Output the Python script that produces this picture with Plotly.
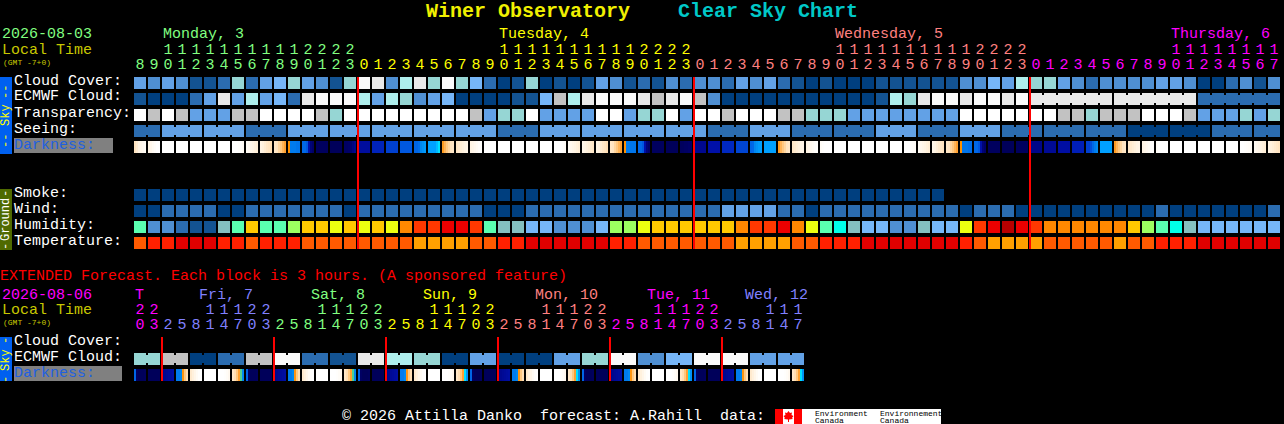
import plotly.graph_objects as go

# ---------- data ----------
PALETTE = ["#003f7f", "#135392", "#2b6cb0", "#4f8fd2", "#62a1e6", "#76b6f8", "#96d6d4", "#aeeeec",
           "#c2c2c2", "#e9e9e9", "#fafafa", "#ffffff", "#5affb0", "#84c0c0", "#9cff60", "#ffc800",
           "#ecff10", "#ff8800", "#ff3800", "#ec0000", "#b80000", "#00ffe8", "#ffa000", "#ff5a00",
           "#ff2000", "#e00000"]

HOUR_LABELS = ["8", "9"] + [str(h) for h in range(10, 24)] + \
    [str(h) for h in range(24)] * 2 + [str(h) for h in range(18)]
HOUR_DAY_COLORS = ["#80ff80"] * 16 + ["#ffff00"] * 24 + ["#ff8080"] * 24 + ["#ff00ff"] * 18
DAY_LABELS = [("Monday, 3", 163, "#80ff80"), ("Tuesday, 4", 499, "#ffff00"),
              ("Wednesday, 5", 835, "#ff8080"), ("Thursday, 6", 1171, "#ff00ff")]

CLOUD_COVER = [4, 3, 4, 3, 1, 1, 2, 6, 2, 4, 5, 6, 4, 3, 1, 6, 10, 9, 3, 7, 9,
               6, 10, 6, 5, 2, 0, 1, 6, 0, 1, 0, 1, 4, 3, 1, 2, 1, 3, 2, 3, 3, 2, 4, 3, 4, 2, 1, 0, 1, 0, 0,
               0, 1, 1, 1, 1, 1, 1, 3, 3, 5, 4, 7, 6, 6, 4, 3, 2, 3, 3, 3, 3, 4, 4, 3, 0, 0, 2, 3, 1, 3]
ECMWF_CLOUD = [1, 0, 0, 0, 2, 4, 9, 4, 7, 4, 5, 2, 9, 10, 10, 10, 7, 4, 7, 6, 3,
               4, 5, 0, 0, 0, 0, 1, 1, 5, 8, 7, 9, 10, 10, 10, 9, 8, 9, 10, 8, 3, 0, 0, 0, 0, 0, 0, 0, 0, 0, 0,
               0, 1, 7, 6, 9, 10, 10, 9, 10, 10, 9, 10, 9, 9, 9, 9, 9, 9, 9, 9, 9, 9, 9, 9, 2, 2, 2, 2, 2, 2]
ECMWF_SPANS = [(64, 69), (70, 75), (76, 81)]
TRANSPARENCY = [11, 8, 11, 8, 4, 4, 4, 8, 8, 11, 11, 11, 11, 8, 6, 11, 11, 11, 11, 11, 11,
                11, 11, 11, 8, 4, 6, 6, 11, 4, 4, 4, 4, 11, 11, 4, 6, 6, 11, 4, 11, 11, 8, 11, 11, 11, 8, 8, 6, 6, 6, 4,
                4, 4, 4, 4, 4, 4, 4, 11, 11, 11, 11, 11, 11, 11, 8, 8, 6, 8, 8, 8, 11, 11, 11, 8, 4, 4, 4, 6, 4, 6]
SEEING_SPAN_VALUES = [2, 4, 4, 2, 4, 4, 4, 4, 4, 2, 4, 4, 4, 4, 2, 4, 2, 2, 4, 2, 4, 2, 2, 2, 0, 0, 2, 2]
SEEING_SPANS = [(0, 1)] + [(c, c + 2) for c in range(2, 80, 3)] + [(80, 81)]
SMOKE = [0] * 58
WIND = [0, 0, 2, 2, 2, 2, 0, 0, 2, 2, 2, 2, 2, 2, 2, 0, 2, 2, 2, 2, 2,
        2, 2, 2, 2, 0, 0, 0, 2, 2, 2, 2, 2, 2, 2, 2, 2, 2, 2, 2, 2, 2, 4, 4, 4, 4, 2, 2, 0, 2, 2, 2,
        2, 2, 2, 2, 2, 2, 2, 0, 2, 2, 2, 0, 0, 0, 0, 0, 0, 0, 0, 0, 0, 2, 0, 0, 0, 0, 0, 0, 0, 2]
HUMIDITY = [12, 3, 3, 2, 1, 1, 13, 12, 15, 12, 12, 14, 15, 15, 16, 15, 16, 15, 16, 17, 18,
            18, 19, 19, 18, 12, 13, 13, 5, 5, 3, 3, 3, 5, 14, 14, 16, 15, 15, 15, 15, 15, 15, 17, 18, 18, 19, 17, 16, 12, 21, 13,
            5, 5, 3, 3, 13, 5, 5, 16, 18, 19, 20, 19, 18, 17, 17, 17, 17, 17, 17, 15, 14, 12, 21, 13, 5, 5, 5, 5, 5, 5]
TEMPERATURE = [23, 24, 24, 25, 25, 25, 24, 24, 23, 24, 24, 24, 23, 23, 23, 23, 23, 23, 23, 23, 22,
               22, 22, 22, 23, 23, 24, 24, 25, 25, 25, 25, 25, 25, 24, 24, 23, 23, 23, 23, 23, 23, 23, 22, 22, 22, 22, 23, 23, 24, 24, 24,
               25, 25, 25, 25, 25, 25, 25, 24, 23, 22, 22, 22, 22, 23, 23, 23, 23, 23, 22, 23, 23, 24, 24, 24, 25, 25, 25, 25, 25, 25]

DARKNESS_SCALE = [(0, "#ffffff"), (1, "#fff4e4"), (2, "#ffe4c0"), (3, "#ffc880"), (4, "#ffa030"),
                  (4.6, "#ff9000"), (4.75, "#50d090"), (5, "#00e0ff"), (5.5, "#00a0ff"), (6, "#0088f0"),
                  (6.5, "#0068e8"), (7, "#0058e0"), (7.5, "#0040d0"), (8, "#0028c0"), (8.5, "#0010a8"),
                  (9, "#000890"), (9.5, "#000068"), (10, "#000050")]
DARKNESS = [
    [2, 1.5, 1, .8, .6, .4], [1, .7, .4, .2, 0, 0], [0], [0], [0], [0], [0], [0, 0, 0, .1, .2, .4],
    [.4, .6, .8, 1, 1.2, 1.4], [1, 1.2, 1.5, 1.8, 2, 2.2], [1.8, 2, 2.5, 3, 3.5, 4], [4.6, 6.2, 6.2, 6.2, 6.3, 6.3],
    [6.5, 6.5, 7, 8.5, 9.3, 9.5], [9.7], [9.8], [9.6, 9.6, 9.5, 9.4, 9.2, 9], [8.7], [8.1], [7.5], [7],
    [6.6, 6.6, 6.4, 6, 5.8, 5.6], [5.5, 5.5, 5.5, 5.5, 5.3, 5], [4.2, 3.5, 3, 2.5, 2, 1.8], [1.8, 1.6, 1.4, 1.2, 1, .9],
    [1, .8, .6, .4, .2, .1], [0], [0], [0], [0], [0], [0, 0, 0, 0, .1, .3], [.4, .6, .8, 1, 1.2, 1.4],
    [.8, 1, 1.2, 1.4, 1.6, 1.8], [1, 1.2, 1.5, 1.8, 2, 2.2], [1.8, 2, 2.5, 3, 3.5, 4], [4.6, 6.2, 6.2, 6.3, 6.3, 6.3],
    [6.5, 6.5, 7, 8.5, 9.3, 9.5], [9.7], [9.8], [9.7, 9.7, 9.6, 9.6, 9.5, 9.5], [9], [8.5], [8], [7.4],
    [6.6, 6.5, 6, 5.8, 5.6, 5.5], [5.5], [4.2, 3.5, 3, 2.5, 2, 1.8], [1.8, 1.6, 1.4, 1.2, 1, .9],
    [1, .8, .6, .4, .2, .1], [.3, .1, 0, 0, 0, 0], [0], [0], [0], [0], [0], [0, 0, 0, .1, .2, .3],
    [.4, .6, .8, 1, 1.2, 1.4], [.8, 1, 1.3, 1.6, 1.8, 2], [1.8, 2, 2.5, 3, 3.5, 4], [4.6, 6.3, 6.3, 6.3, 6.4, 6.4],
    [6.5, 6.5, 7, 8.5, 9.3, 9.5], [9.7], [9.8], [9.7], [9.1], [8.9], [8.6], [8.2],
    [7.5, 7.5, 7.2, 6.5, 6.2, 6], [5.5], [4.2, 3.5, 3, 2.5, 2, 1.8], [1.8, 1.6, 1.4, 1.2, 1, .9],
    [1, .8, .6, .4, .2, .1], [.3, .1, 0, 0, 0, 0], [0], [0], [0], [0], [0], [0, 0, .1, .2, .3, .4],
    [.5, .7, .9, 1, 1.2, 1.4], [1, 1.2, 1.4, 1.6, 1.8, 2],
]
MIDNIGHT_COLS = [16, 40, 64]

EXT_ONES = list("03258147" * 6)
EXT_TENS = list("22   111" + "22   111" * 5)
EXT_DAY_COLORS = ["#ff00ff"] * 2 + ["#8080ff"] * 8 + ["#80ff80"] * 8 + ["#ffff00"] * 8 + \
    ["#ff8080"] * 8 + ["#ff00ff"] * 8 + ["#8080ff"] * 6
EXT_DAY_LABELS = [("T", 135, "#ff00ff"), ("Fri, 7", 199, "#8080ff"), ("Sat, 8", 311, "#80ff80"),
                  ("Sun, 9", 423, "#ffff00"), ("Mon, 10", 535, "#ff8080"), ("Tue, 11", 647, "#ff00ff"),
                  ("Wed, 12", 745, "#8080ff")]
EXT_ECMWF_PAIRS = [6, 8, 0, 2, 8, 10, 2, 1, 9, 7, 6, 0, 4, 0, 0, 4, 6, 10, 3, 5, 10, 10, 4, 4]
EXT_DARKNESS = [
    [6.6, 9.6, 9.8, 9.8, 9.8, 9.7], [9.8], [9.1, 9, 8.9, 8.8, 8.7, 8.6], [6.2, 6.2, 6, 4.4, 3, 2.2],
    [1.6, 1.2, .8, .4, .1, 0], [0], [0, 0, 0, .1, .3, .6], [1.8, 2.2, 3, 4, 4.75, 6],
    [6.6, 9.6, 9.8, 9.8, 9.8, 9.7], [9.8], [9.1, 9, 8.9, 8.8, 8.7, 8.6], [6.2, 6.2, 6, 4.4, 3, 2.2],
    [1.6, 1.2, .8, .4, .1, 0], [0], [0, 0, 0, .1, .3, .6], [1.8, 2.2, 3, 4, 4.75, 6],
    [6.6, 9.6, 9.8, 9.8, 9.8, 9.7], [9.8], [9.1, 9, 8.9, 8.8, 8.7, 8.6], [6.2, 6.2, 6, 4.4, 3, 2.2],
    [1.6, 1.2, .8, .4, .1, 0], [0], [0, 0, 0, .1, .3, .6], [1.8, 2.2, 3, 4, 5, 5.8],
    [6.6, 9.6, 9.8, 9.8, 9.8, 9.7], [9.8], [9.1, 9, 8.9, 8.8, 8.7, 8.6], [6.2, 6.2, 6, 4.4, 3, 2.2],
    [1.6, 1.2, .8, .4, .1, 0], [0], [0, 0, 0, .1, .3, .6], [1.8, 2.2, 3, 4, 5, 5.8],
    [6.6, 9.6, 9.8, 9.8, 9.8, 9.7], [9.8], [9.1, 9, 8.9, 8.8, 8.7, 8.6], [6.2, 6.2, 6, 4.4, 3, 2.2],
    [1.6, 1.2, .8, .4, .1, 0], [0], [0, 0, 0, .1, .3, .6], [1.8, 2.2, 3, 4, 5, 5.8],
    [6.6, 9.6, 9.8, 9.8, 9.8, 9.7], [9.8], [9.1, 9, 8.9, 8.8, 8.7, 8.6], [6.2, 6.2, 6, 4.4, 3, 2.2],
    [1.6, 1.2, .8, .4, .1, 0], [0], [0, 0, 0, .1, .3, .6], [1.8, 2.2, 3, 4, 5, 5.8],
]
EXT_MIDNIGHT_COLS = [2, 10, 18, 26, 34, 42]

# ---------- layout helpers ----------
W, H = 1284, 424
MONO = "Liberation Mono"
X0_PX, COL_PX = 140, 14      # pixel of column 0 centre, pixels per column
Y0_PX, ROW_PX = 83, 16       # pixel of row 0 centre, pixels per row
ROW_CLOUD, ROW_ECMWF, ROW_TRANS, ROW_SEEING, ROW_DARK = 0, 1, 2, 3, 4
ROW_SMOKE, ROW_WIND, ROW_HUM, ROW_TEMP = 7, 8, 9, 10
ROW_EXT_ECMWF, ROW_EXT_DARK = 17.25, 18.25


def row_of(px):
    return (px - Y0_PX) / ROW_PX


N = len(PALETTE)
DISCRETE = []
for i, c in enumerate(PALETTE):
    DISCRETE += [[i / N, c], [(i + 1) / N, c]]
DARK_CS = [[v / 10, c] for v, c in DARKNESS_SCALE]


def expand_spans(values, spans):
    out = [None] * (spans[-1][1] + 1)
    for v, (a, b) in zip(values, spans):
        for c in range(a, b + 1):
            out[c] = v
    return out


SEEING = expand_spans(SEEING_SPAN_VALUES, SEEING_SPANS)
EXT_SPANS = [(2 * i, 2 * i + 1) for i in range(len(EXT_ECMWF_PAIRS))]
EXT_ECMWF = expand_spans(EXT_ECMWF_PAIRS, EXT_SPANS)

pad = lambda a: list(a) + [None] * (82 - len(a))
grid_rows = {ROW_CLOUD: CLOUD_COVER, ROW_ECMWF: ECMWF_CLOUD, ROW_TRANS: TRANSPARENCY, ROW_SEEING: SEEING,
             ROW_SMOKE: pad(SMOKE), ROW_WIND: WIND, ROW_HUM: HUMIDITY, ROW_TEMP: TEMPERATURE}
ys = list(range(0, 11))
z = [grid_rows.get(r, [None] * 82) for r in ys]

fig = go.Figure()
common = dict(hoverinfo="skip", showscale=False)
fig.add_trace(go.Heatmap(x=list(range(82)), y=ys, z=z, xgap=2, ygap=4, zmin=-.5, zmax=N - .5,
                         colorscale=DISCRETE, **common))
fig.add_trace(go.Heatmap(x=list(range(48)), y=[ROW_EXT_ECMWF], z=[EXT_ECMWF], xgap=2, ygap=4, zmin=-.5,
                         zmax=N - .5, colorscale=DISCRETE, **common))


def darkness_trace(cells, row):
    xs, vals = [], []
    for c, prof in enumerate(cells):
        prof = prof * 6 if len(prof) == 1 else prof
        for k, v in enumerate(prof):
            xs.append(c + (k - 2.5) / 7)
            vals.append(v)
        xs.append(c + .5)
        vals.append(None)
    return go.Heatmap(x=xs, y=[row], z=[vals], ygap=4, zmin=0, zmax=10, colorscale=DARK_CS, **common)


fig.add_trace(darkness_trace(DARKNESS, ROW_DARK))
fig.add_trace(darkness_trace(EXT_DARKNESS, ROW_EXT_DARK))

# hour digits
tens = [s[0] if len(s) == 2 else " " for s in HOUR_LABELS]
ones = [s[-1] for s in HOUR_LABELS]
for digits, px, cols in [(tens, 50, HOUR_DAY_COLORS), (ones, 65, HOUR_DAY_COLORS),
                         (EXT_TENS, 310, EXT_DAY_COLORS), (EXT_ONES, 325, EXT_DAY_COLORS)]:
    fig.add_trace(go.Scatter(x=list(range(len(digits))), y=[row_of(px)] * len(digits), mode="text", text=digits,
                             textposition="middle center", textfont=dict(family=MONO, size=15, color=cols),
                             hoverinfo="skip"))

shapes = []


def bridges(values, spans, row):
    for a, b in spans:
        for c in range(a, b):
            shapes.append(dict(type="rect", xref="x", yref="y", x0=c + .4, x1=c + .6, y0=row - .25, y1=row + .25,
                               fillcolor=PALETTE[values[c]], line_width=0, layer="above"))


bridges(SEEING, SEEING_SPANS, ROW_SEEING)
bridges(ECMWF_CLOUD, ECMWF_SPANS, ROW_ECMWF)
bridges(EXT_ECMWF, EXT_SPANS, ROW_EXT_ECMWF)

# midnight lines
for c in MIDNIGHT_COLS:
    shapes.append(dict(type="line", xref="x", yref="y", x0=c - 3 / 7, x1=c - 3 / 7, y0=row_of(77), y1=row_of(249),
                       line=dict(color="#ff0000", width=2), layer="above"))
for c in EXT_MIDNIGHT_COLS:
    shapes.append(dict(type="line", xref="x", yref="y", x0=c - 3 / 7, x1=c - 3 / 7, y0=row_of(337), y1=row_of(381),
                       line=dict(color="#ff0000", width=2), layer="above"))


def prect(x0, y0, x1, y1, color, layer="below"):
    shapes.append(dict(type="rect", xref="paper", yref="paper", x0=x0 / W, x1=x1 / W, y0=1 - y0 / H, y1=1 - y1 / H,
                       fillcolor=color, line_width=0, layer=layer))


prect(0, 77, 12, 154, "#0060f0")
prect(0, 189, 12, 250, "#4f6a00")
prect(0, 337, 12, 381, "#0060f0")
prect(14, 138, 113, 153, "#808080")
prect(14, 366, 122, 381, "#808080")
# logo
prect(775, 409, 941, 424, "#ffffff")
prect(775, 409, 783, 424, "#ff0000")
prect(794, 409, 802, 424, "#ff0000")
leaf = [(788.5, 411), (790, 413), (792, 412.5), (791.5, 415), (793.5, 416), (792, 418), (793, 419), (789, 419.5),
        (789, 422), (788, 422), (788, 419.5), (784, 419), (785, 418), (783.5, 416), (785.5, 415), (785, 412.5),
        (787, 413)]
shapes.append(dict(type="path", xref="paper", yref="paper", fillcolor="#ff0000", line_width=0,
                   path="M " + " L ".join(f"{x / W:.5f},{1 - y / H:.5f}" for x, y in leaf) + " Z"))

anns = []


def label(x, y, text, color="#ffffff", size=15, bold=False, anchor="left", angle=0):
    if anchor == "left":
        x -= 1
    anns.append(dict(xref="paper", yref="paper", x=x / W, y=1 - y / H, text=f"<b>{text}</b>" if bold else text,
                     showarrow=False, xanchor=anchor, yanchor="middle", borderpad=0, textangle=angle,
                     font=dict(family=MONO, size=size, color=color)))


label(426, 12, "Winer Observatory", "#f0f000", 20, True)
label(678, 12, "Clear Sky Chart", "#00c8c8", 20, True)
label(2, 35, "2026-08-03", "#80ff80")
label(2, 50, "Local Time", "#c8c800")
label(3, 62, "(GMT -7+0)", "#c8c800", 8)
for t, x, c in DAY_LABELS:
    label(x, 35, t, c)
for t, y in [("Cloud Cover:", 81), ("ECMWF Cloud:", 97), ("Transparency:", 113), ("Seeing:", 129)]:
    label(14, y, t)
label(14, 145, "Darkness:", "#2060e0")
for t, y in [("Smoke:", 193), ("Wind:", 209), ("Humidity:", 225), ("Temperature:", 241)]:
    label(14, y, t)
label(0, 276, "EXTENDED Forecast. Each block is 3 hours. (A sponsored feature)", "#ff0000")
label(2, 295, "2026-08-06", "#ff00ff")
label(2, 310, "Local Time", "#c8c800")
label(3, 322, "(GMT -7+0)", "#c8c800", 8)
for t, x, c in EXT_DAY_LABELS:
    label(x, 295, t, c)
label(14, 341, "Cloud Cover:")
label(14, 357, "ECMWF Cloud:")
label(14, 373, "Darkness:", "#2060e0")
label(342, 416, "© 2026 Attilla Danko  forecast: A.Rahill  data:")
label(815, 413, "Environment", "#000000", 8)
label(815, 420, "Canada", "#000000", 8)
label(880, 413, "Environnement", "#000000", 8)
label(880, 420, "Canada", "#000000", 8)
# side bars
for y, t, c, s in [(92, "--", "#ffff00", 12), (115, "Sky", "#ffff00", 12), (141, "--", "#ffff00", 12),
                   (193, "-", "#ffffff", 12), (220, "Ground", "#ffffff", 12), (246, "-", "#ffffff", 12),
                   (340, "-", "#ffff00", 12), (360, "Sky", "#ffff00", 12), (379, "-", "#ffff00", 12)]:
    label(6, y, t, c, s, anchor="center", angle=-90)

fig.update_layout(width=W, height=H, margin=dict(l=0, r=0, t=0, b=0), paper_bgcolor="#000000", plot_bgcolor="#000000",
                  showlegend=False, shapes=shapes, annotations=anns, hovermode=False,
                  xaxis=dict(visible=False, range=[-X0_PX / COL_PX, (W - X0_PX) / COL_PX], fixedrange=True),
                  yaxis=dict(visible=False, range=[(H - Y0_PX) / ROW_PX, -Y0_PX / ROW_PX], fixedrange=True))
fig.write_html("out.html", config=dict(displayModeBar=False),
               post_script="document.body.style.margin='0';document.body.style.overflow='hidden';document.body.style.background='#000';")
